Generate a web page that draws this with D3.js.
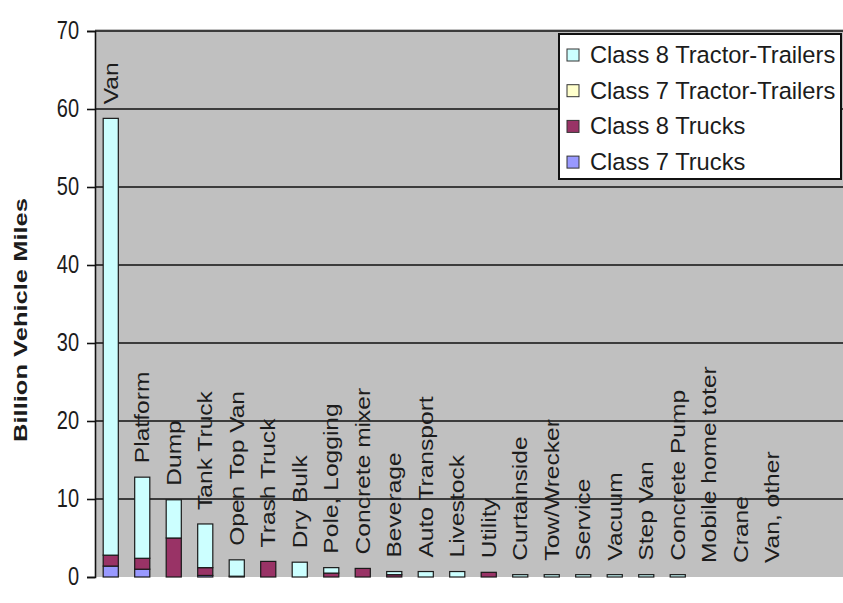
<!DOCTYPE html>
<html>
<head>
<meta charset="utf-8">
<script src="https://cdn.jsdelivr.net/npm/d3@7"></script>
<style>
  html, body { margin: 0; padding: 0; background: #ffffff; }
  svg { display: block; font-family: "Liberation Sans", Arial, sans-serif; }
</style>
</head>
<body>
<svg id="chart" width="843" height="603"></svg>
<script>
// Vehicle body types, in the order they are plotted
const categories = [
  "Van", "Platform", "Dump", "Tank Truck", "Open Top Van", "Trash Truck",
  "Dry Bulk", "Pole, Logging", "Concrete mixer", "Beverage", "Auto Transport",
  "Livestock", "Utility", "Curtainside", "Tow/Wrecker", "Service", "Vacuum",
  "Step Van", "Concrete Pump", "Mobile home toter", "Crane", "Van, other"
];

// Billion vehicle miles per body type, one array per vehicle class
const class7Trucks = [1.4, 1.0, 0, 0.2, 0, 0, 0, 0, 0, 0, 0, 0, 0, 0, 0, 0, 0, 0, 0, 0, 0, 0];
const class8Trucks = [1.4, 1.4, 5.0, 1.0, 0.1, 2.0, 0, 0.5, 1.1, 0.3, 0, 0, 0.6, 0, 0, 0, 0, 0, 0, 0, 0, 0];
const class7TractorTrailers = [0, 0, 0, 0, 0, 0, 0, 0, 0, 0, 0, 0, 0, 0, 0, 0, 0, 0, 0, 0, 0, 0];
const class8TractorTrailers = [56.0, 10.4, 4.9, 5.6, 2.1, 0, 1.9, 0.7, 0, 0.4, 0.7, 0.7, 0, 0.3, 0.3, 0.3, 0.3, 0.3, 0.3, 0, 0, 0];

const seriesNames = ["Class 7 Trucks", "Class 8 Trucks", "Class 7 Tractor-Trailers", "Class 8 Tractor-Trailers"];
const seriesValues = [class7Trucks, class8Trucks, class7TractorTrailers, class8TractorTrailers];
const seriesColors = ["#9999ff", "#993366", "#ffffcc", "#ccffff"];

const yTicks = [0, 10, 20, 30, 40, 50, 60, 70];
const yTitle = "Billion Vehicle Miles";

// Layout
const svg = d3.select("#chart");
const plot = { left: 95, top: 31, bottom: 577, right: 843 };
const step = 31.5;
const textColor = "#1c1c1c";

const rows = categories.map((c, i) => {
  const r = { category: c };
  seriesNames.forEach((s, k) => { r[s] = seriesValues[k][i]; });
  return r;
});
const stacked = d3.stack().keys(seriesNames)(rows);

const x = d3.scaleBand()
  .domain(categories)
  .range([plot.left, plot.left + step * categories.length])
  .paddingInner(0.52)
  .paddingOuter(0.26);

const y = d3.scaleLinear().domain([0, 70]).range([plot.bottom, plot.top]);

// Plot background
svg.append("rect")
  .attr("x", plot.left).attr("y", plot.top - 2)
  .attr("width", plot.right - plot.left).attr("height", plot.bottom - plot.top + 2)
  .attr("fill", "#c0c0c0");

// Horizontal gridlines
svg.append("g")
  .selectAll("line")
  .data(yTicks.filter(t => t > 0))
  .join("line")
  .attr("x1", plot.left).attr("x2", plot.right)
  .attr("y1", d => y(d)).attr("y2", d => y(d))
  .attr("stroke", "#111").attr("stroke-width", 1.6);

// Stacked columns
svg.append("g")
  .selectAll("g")
  .data(stacked)
  .join("g")
  .attr("fill", (d, i) => seriesColors[i])
  .selectAll("rect")
  .data(d => d.filter(p => p[1] - p[0] > 0))
  .join("rect")
  .attr("x", d => x(d.data.category))
  .attr("y", d => y(d[1]))
  .attr("width", x.bandwidth())
  .attr("height", d => y(d[0]) - y(d[1]))
  .attr("stroke", "#1a1a1a")
  .attr("stroke-width", 1.2);

// Category names standing above each column (narrow, tall lettering)
const totals = rows.map(r => seriesNames.reduce((a, s) => a + r[s], 0));
svg.append("g")
  .selectAll("text")
  .data(categories)
  .join("text")
  .attr("transform", (c, i) => `translate(${x(c) + x.bandwidth() / 2 + 7},${y(totals[i]) - 14}) rotate(-90) scale(1.2,1)`)
  .attr("font-size", 20.5)
  .attr("fill", textColor)
  .text(c => c);

// Y axis
const yAxis = d3.axisLeft(y).tickValues(yTicks).tickSize(8).tickPadding(8);
const ya = svg.append("g")
  .attr("transform", `translate(${plot.left},0)`)
  .call(yAxis);
ya.select(".domain").attr("stroke", "#111").attr("stroke-width", 1.6);
ya.selectAll(".tick line").attr("stroke", "#111").attr("stroke-width", 1.6);
ya.selectAll(".tick text")
  .attr("font-size", 20)
  .attr("font-family", "Liberation Sans, Arial, sans-serif")
  .attr("fill", textColor)
  .attr("dy", null)
  .attr("y", 0)
  .attr("transform", "translate(0,7) scale(1,1.25)");

svg.append("text")
  .attr("transform", `translate(27,${(plot.top + plot.bottom) / 2 + 16}) rotate(-90) scale(1.38,1)`)
  .attr("text-anchor", "middle")
  .attr("font-size", 18.5)
  .attr("font-weight", "bold")
  .attr("fill", textColor)
  .text(yTitle);

// Legend
const legend = svg.append("g");
legend.append("rect")
  .attr("x", 559).attr("y", 34)
  .attr("width", 282).attr("height", 145)
  .attr("fill", "#ffffff")
  .attr("stroke", "#111").attr("stroke-width", 2);

const legendOrder = [3, 2, 1, 0];
const li = legend.selectAll("g.item")
  .data(legendOrder)
  .join("g")
  .attr("class", "item")
  .attr("transform", (k, j) => `translate(567,${55 + j * 35.7})`);
li.append("rect")
  .attr("x", 0).attr("y", -6)
  .attr("width", 12).attr("height", 12)
  .attr("fill", k => seriesColors[k])
  .attr("stroke", "#333").attr("stroke-width", 1);
li.append("text")
  .attr("x", 23).attr("y", 8)
  .attr("font-size", 23.7)
  .attr("fill", textColor)
  .text(k => seriesNames[k]);
</script>
</body>
</html>
